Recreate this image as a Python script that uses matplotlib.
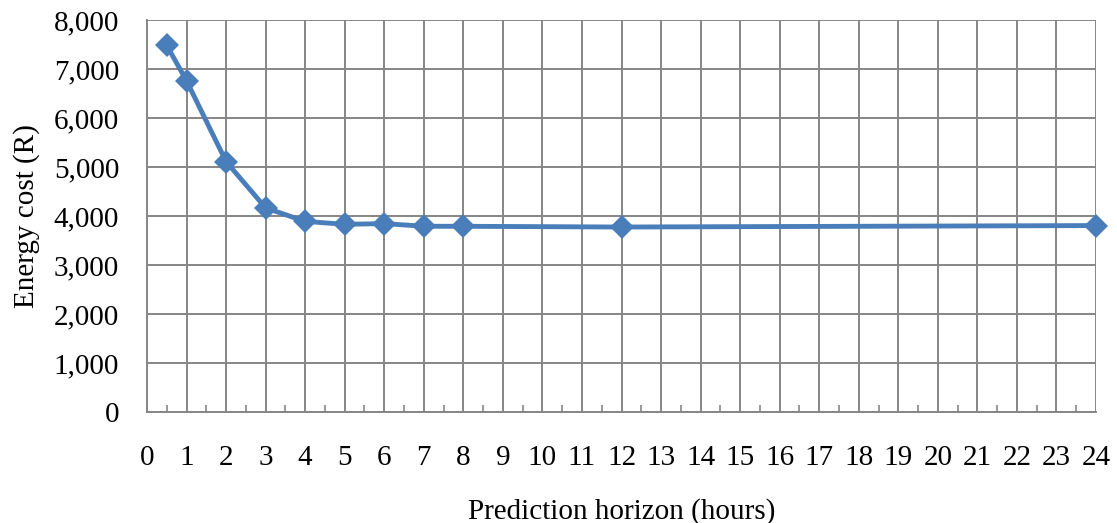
import matplotlib
matplotlib.use("Agg")
import matplotlib.pyplot as plt
from matplotlib.ticker import FuncFormatter, MultipleLocator

horizon_hours = [0.5, 1, 2, 3, 4, 5, 6, 7, 8, 12, 24]
energy_cost = [7480, 6760, 5110, 4165, 3890, 3830, 3845, 3790, 3790, 3775, 3805]

plt.rcParams["font.family"] = ["Liberation Serif", "DejaVu Serif"]

fig = plt.figure(figsize=(11.17, 5.23), dpi=100)
ax = fig.add_axes([147 / 1117, 1 - 412 / 523, (1096 - 147) / 1117, (412 - 20) / 523])

grid_c = "#868686"
ax.plot(horizon_hours, energy_cost, color="#4a7ebb", lw=3.5, marker="D",
        markersize=12, markeredgewidth=0, zorder=3, clip_on=False)

ax.set_xlim(0, 24)
ax.set_ylim(0, 8000)
ax.xaxis.set_major_locator(MultipleLocator(1))
ax.xaxis.set_minor_locator(MultipleLocator(0.5))
ax.yaxis.set_major_locator(MultipleLocator(1000))
ax.yaxis.set_major_formatter(FuncFormatter(lambda v, p: f"{int(v):,}"))

ax.grid(True, which="major", color=grid_c, lw=1.4)
for s in ["top", "right"]:
    ax.spines[s].set_visible(False)
for s in ["left", "bottom"]:
    ax.spines[s].set_color(grid_c)
    ax.spines[s].set_linewidth(1.4)

ax.tick_params(axis="x", which="major", length=0, pad=24, labelsize=21)
ax.tick_params(axis="x", which="minor", direction="in", length=5, color=grid_c, width=1.2)
ax.tick_params(axis="y", which="major", length=0, pad=20, labelsize=21)

ax.set_xlabel("Prediction horizon (hours)", fontsize=21, labelpad=19)
ax.set_ylabel("Energy cost (R)", fontsize=21, labelpad=10)

fig.savefig("out.png", dpi=100)
